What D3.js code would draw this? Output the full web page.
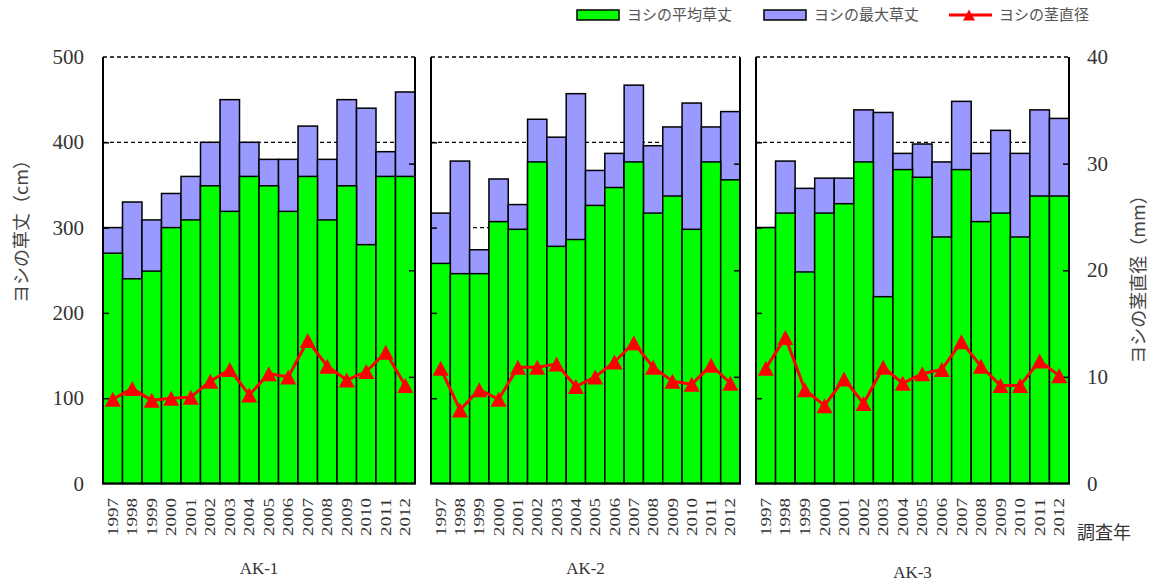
<!DOCTYPE html>
<html>
<head>
<meta charset="utf-8">
<script src="https://cdn.jsdelivr.net/npm/d3@7"></script>
<style>
  body { margin: 0; background: #fff; }
  svg { display: block; }
</style>
</head>
<body>
<svg id="chart"></svg>
<script>
const years = ['1997','1998','1999','2000','2001','2002','2003','2004','2005','2006','2007','2008','2009','2010','2011','2012']
const sites = ['AK-1', 'AK-2', 'AK-3']

// ヨシの平均草丈 (cm)
const avgHeight = [
  [270, 240, 249, 300, 309, 349, 319, 360, 349, 319, 360, 309, 349, 280, 360, 360],
  [258, 246, 246, 307, 298, 377, 278, 286, 326, 347, 377, 317, 337, 298, 377, 356],
  [300, 317, 248, 317, 328, 377, 219, 368, 359, 289, 368, 307, 317, 289, 337, 337]
]
// ヨシの最大草丈 (cm)
const maxHeight = [
  [300, 330, 309, 340, 360, 400, 450, 400, 380, 380, 419, 380, 450, 440, 389, 459],
  [317, 378, 274, 357, 327, 427, 406, 457, 367, 387, 467, 396, 418, 446, 418, 436],
  [300, 378, 346, 358, 358, 438, 435, 387, 398, 377, 448, 387, 414, 387, 438, 428]
]
// ヨシの茎直径 (mm)
const stemDiam = [
  [7.9, 8.9, 7.8, 8.0, 8.1, 9.6, 10.7, 8.3, 10.3, 10.0, 13.4, 11.0, 9.7, 10.5, 12.3, 9.2],
  [10.8, 6.9, 8.8, 7.9, 10.9, 10.9, 11.2, 9.1, 10.0, 11.4, 13.2, 10.9, 9.6, 9.3, 11.1, 9.4],
  [10.8, 13.7, 8.8, 7.3, 9.8, 7.5, 10.9, 9.4, 10.3, 10.7, 13.3, 11.0, 9.2, 9.2, 11.5, 10.1]
]
const cmTicks = [0, 100, 200, 300, 400, 500]
const mmTicks = [0, 10, 20, 30, 40]

const width = 1158, height = 584
const plotTop = 57, plotBottom = 483.5
const panels = [{ x: 103, w: 312 }, { x: 431, w: 309 }, { x: 756, w: 313 }]

const svg = d3.select('#chart')
  .attr('width', width)
  .attr('height', height)

const y = d3.scaleLinear().domain([0, 500]).range([plotBottom, plotTop])
const y2 = d3.scaleLinear().domain([0, 40]).range([plotBottom, plotTop])

const serif = "'Liberation Serif', 'Times New Roman', serif"
const jp = "'Noto Sans CJK JP', sans-serif"
const tri = 'M0,-7.5L8,7.5L-8,7.5Z'

panels.forEach((p, i) => {
  const x = d3.scaleBand().domain(years).range([p.x, p.x + p.w]).padding(0)
  const g = svg.append('g')

  // 破線グリッド
  g.append('g').selectAll('line')
    .data(cmTicks.slice(1))
    .enter()
    .append('line')
    .attr('x1', p.x).attr('x2', p.x + p.w)
    .attr('y1', d => y(d)).attr('y2', d => y(d))
    .attr('stroke', '#000')
    .attr('stroke-width', 1.3)
    .attr('stroke-dasharray', '4,3')

  // 最大草丈
  g.append('g').selectAll('rect')
    .data(maxHeight[i])
    .enter()
    .append('rect')
    .attr('x', (d, j) => x(years[j]))
    .attr('width', x.bandwidth())
    .attr('y', d => y(d))
    .attr('height', d => y(0) - y(d))
    .attr('fill', '#9999ff')
    .attr('stroke', '#000')
    .attr('stroke-width', 1.5)

  // 平均草丈
  g.append('g').selectAll('rect')
    .data(avgHeight[i])
    .enter()
    .append('rect')
    .attr('x', (d, j) => x(years[j]))
    .attr('width', x.bandwidth())
    .attr('y', d => y(d))
    .attr('height', d => y(0) - y(d))
    .attr('fill', '#00ff00')
    .attr('stroke', '#000')
    .attr('stroke-width', 1.5)

  // 枠
  g.append('path')
    .attr('d', `M${p.x},${plotTop}V${plotBottom}H${p.x + p.w}V${plotTop}`)
    .attr('fill', 'none')
    .attr('stroke', '#000')
    .attr('stroke-width', 2)

  // 内向き目盛
  const la = g.append('g')
    .attr('transform', `translate(${p.x},0)`)
    .call(d3.axisRight(y).tickValues(cmTicks.slice(1, -1)).tickSize(6).tickFormat(''))
  la.select('.domain').remove()
  la.selectAll('line').attr('stroke', '#000').attr('stroke-width', 1.5)

  const ra = g.append('g')
    .attr('transform', `translate(${p.x + p.w},0)`)
    .call(d3.axisLeft(y2).tickValues(mmTicks.slice(1, -1)).tickSize(6).tickFormat(''))
  ra.select('.domain').remove()
  ra.selectAll('line').attr('stroke', '#000').attr('stroke-width', 1.5)

  // 茎直径
  const line = d3.line()
    .x((d, j) => x(years[j]) + x.bandwidth() / 2)
    .y(d => y2(d))

  g.append('path')
    .datum(stemDiam[i])
    .attr('d', line)
    .attr('fill', 'none')
    .attr('stroke', '#ff0000')
    .attr('stroke-width', 3)

  g.append('g').selectAll('path')
    .data(stemDiam[i])
    .enter()
    .append('path')
    .attr('d', tri)
    .attr('transform', (d, j) => `translate(${x(years[j]) + x.bandwidth() / 2},${y2(d)})`)
    .attr('fill', '#ff0000')

  // 年ラベル
  g.append('g').selectAll('text')
    .data(years)
    .enter()
    .append('text')
    .attr('transform', d => `translate(${x(d) + x.bandwidth() / 2},498) rotate(-90)`)
    .attr('text-anchor', 'end')
    .attr('dy', '0.34em')
    .attr('textLength', 38)
    .attr('lengthAdjust', 'spacingAndGlyphs')
    .attr('fill', '#333')
    .style('font-family', serif)
    .style('font-size', '15px')
    .text(d => d)

  // 地点名
  g.append('text')
    .attr('x', p.x + p.w / 2)
    .attr('y', i === 2 ? 578 : 574)
    .attr('text-anchor', 'middle')
    .attr('fill', '#333')
    .style('font-family', serif)
    .style('font-size', '17px')
    .text(sites[i])
})

// 左軸ラベル
svg.append('g').selectAll('text')
  .data(cmTicks)
  .enter()
  .append('text')
  .attr('x', 84)
  .attr('y', d => y(d))
  .attr('dy', '0.34em')
  .attr('text-anchor', 'end')
  .attr('fill', '#333')
  .style('font-family', serif)
  .style('font-size', '21px')
  .text(d => d)

// 右軸ラベル
svg.append('g').selectAll('text')
  .data(mmTicks)
  .enter()
  .append('text')
  .attr('x', 1087)
  .attr('y', d => y2(d))
  .attr('dy', '0.34em')
  .attr('fill', '#333')
  .style('font-family', serif)
  .style('font-size', '21px')
  .text(d => d)

svg.append('text')
  .attr('transform', 'translate(22,227) rotate(-90)')
  .attr('text-anchor', 'middle')
  .attr('dy', '0.36em')
  .attr('fill', '#444')
  .style('font-family', jp)
  .style('font-size', '18px')
  .text('ヨシの草丈（cm）')

svg.append('text')
  .attr('transform', 'translate(1139,275) rotate(-90)')
  .attr('text-anchor', 'middle')
  .attr('dy', '0.36em')
  .attr('fill', '#444')
  .style('font-family', jp)
  .style('font-size', '18px')
  .text('ヨシの茎直径（mm）')

svg.append('text')
  .attr('x', 1077)
  .attr('y', 533)
  .attr('dy', '0.36em')
  .attr('fill', '#333')
  .style('font-family', jp)
  .style('font-size', '18px')
  .text('調査年')

// 凡例
const legend = svg.append('g').attr('transform', 'translate(0,15)')
const legendItems = [
  { label: 'ヨシの平均草丈', x: 577, type: 'rect', color: '#00ff00' },
  { label: 'ヨシの最大草丈', x: 764, type: 'rect', color: '#9999ff' },
  { label: 'ヨシの茎直径', x: 949, type: 'line', color: '#ff0000' }
]
legendItems.forEach(it => {
  if (it.type === 'rect') {
    legend.append('rect')
      .attr('x', it.x).attr('y', -5)
      .attr('width', 42).attr('height', 10)
      .attr('fill', it.color)
      .attr('stroke', '#000')
      .attr('stroke-width', 1.5)
  } else {
    legend.append('line')
      .attr('x1', it.x).attr('x2', it.x + 43)
      .attr('y1', 0).attr('y2', 0)
      .attr('stroke', it.color)
      .attr('stroke-width', 3)
    legend.append('path')
      .attr('d', 'M0,-5.5L6,5.5L-6,5.5Z')
      .attr('transform', `translate(${it.x + 20},0)`)
      .attr('fill', it.color)
  }
  legend.append('text')
    .attr('x', it.x + 50)
    .attr('y', 0)
    .attr('dy', '0.36em')
    .attr('fill', '#555')
    .style('font-family', jp)
    .style('font-size', '15px')
    .text(it.label)
})
</script>
</body>
</html>
